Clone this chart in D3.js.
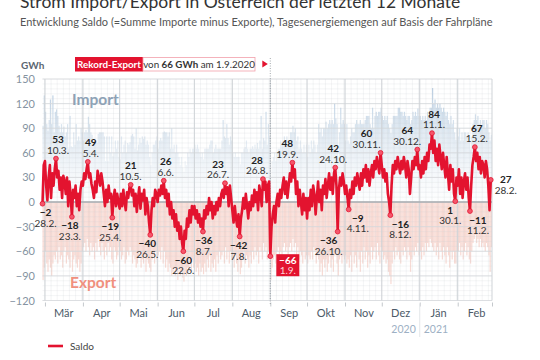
<!DOCTYPE html>
<html><head><meta charset="utf-8">
<script src="https://cdn.jsdelivr.net/npm/d3@7"></script>
<style>
body{margin:0;background:#fff;}
svg{display:block;font-family:Lato,"Open Sans",sans-serif;}
</style></head><body>
<svg id="c" width="540" height="360"></svg>
<script>
// ---------- DATA (GWh per day) ----------
const saldoFeb20 = [-2, 45];
const saldoMar = [50,20,2,30,45,5,35,20,40,53,30,38,15,30,5,32,25,10,30,-5,25,8,-18,15,5,20,-5,10,-10,15,25];
const saldoApr = [20,35,28,40,49,30,35,22,15,5,25,12,38,30,20,35,25,10,-5,15,0,20,5,10,-19,5,15,-5,10,0];
const saldoMay = [-8,10,-5,15,0,-10,12,5,18,21,8,15,-5,10,-12,5,18,-8,10,2,15,-15,5,-5,-25,-40,-10,5,-5,15,10];
const saldoJun = [0,15,8,20,10,26,5,15,-5,10,-15,0,-20,-10,-30,-15,-35,-25,-45,-30,-50,-60,-35,-45,-20,-30,-10,-25,-5,-15];
const saldoJul = [-5,-20,-10,-25,-15,-30,-20,-36,-10,-20,-5,-15,5,-10,0,-20,-5,-15,0,-10,5,-5,10,15,5,23,10,18,-5,20,5];
const saldoAug = [-10,-25,-5,-20,-30,-15,-42,-20,-10,5,-8,10,-5,-20,0,-10,8,-5,15,0,12,-10,20,10,-5,28,15,25,0,20,25];
const saldoSep = [-66,-30,-15,-5,-25,0,10,-5,15,5,20,30,10,25,5,20,35,25,48,30,40,10,25,-5,15,0,-15,10,-10,5];
const saldoOct = [-20,5,-10,15,-5,20,10,-15,5,25,0,15,-10,20,10,28,5,20,35,15,30,10,35,42,20,-36,15,30,20,35,25];
const saldoNov = [10,20,5,-9,15,5,25,10,30,20,35,25,15,35,20,40,30,45,25,40,20,35,45,30,50,40,55,45,35,60];
const saldoDec = [45,30,40,25,35,10,0,-16,20,45,35,50,40,55,45,35,50,40,55,45,30,50,40,10,30,50,40,55,45,64,40];
const saldoJan = [45,30,50,35,55,40,60,50,70,65,84,60,75,50,65,45,70,55,40,60,45,30,55,35,15,45,25,40,10,1,30];
const saldoFeb = [20,40,10,30,5,25,35,15,30,5,-11,20,45,55,67,50,60,40,55,35,50,45,30,50,40,20,-10,27];

const importFeb20 = [93,130];
const importMar = [110,95,87,100,125,95,130,85,110,113,105,93,85,95,85,92,80,85,95,65,105,68,67,85,70,95,75,80,75,90,85];
const importApr = [75,85,88,85,104,95,85,82,70,75,75,72,83,85,85,85,85,80,50,80,50,80,60,80,56,60,75,65,75,55];
const importMay = [52,80,60,70,75,60,72,70,73,81,83,80,65,90,63,70,78,72,80,77,80,70,75,70,55,45,60,70,70,75,80];
const importJun = [65,75,78,75,85,86,85,85,80,85,65,90,65,70,60,70,60,55,45,55,42,37,50,45,60,55,65,60,65,65];
const importJul = [70,65,70,65,60,55,60,52,65,65,65,65,70,75,75,60,65,70,65,65,65,65,75,100,80,78,95,78,70,80,75];
const importAug = [60,55,60,55,55,55,46,60,60,65,67,75,65,60,65,65,68,65,70,65,72,65,75,105,65,78,75,110,70,95,80];
const importSep = [29,50,55,60,50,60,65,65,75,70,75,80,70,80,70,75,85,85,93,85,90,75,80,65,75,65,60,70,60,70];
const importOct = [55,70,60,75,65,75,70,60,70,95,85,90,80,90,90,98,90,95,100,95,100,95,120,102,95,54,85,115,95,100,95];
const importNov = [75,95,75,71,80,90,85,85,95,100,95,95,100,95,95,95,100,105,105,105,95,90,115,90,105,110,105,110,110,115];
const importDec = [105,100,105,100,105,95,90,84,95,105,105,105,105,115,115,110,110,105,110,105,100,105,105,95,100,110,105,110,105,114,105];
const importJan = [105,100,105,100,105,100,110,105,115,115,139,120,125,115,120,115,120,115,110,115,110,105,110,100,95,105,95,100,85,76,90];
const importFeb = [80,90,75,85,75,85,85,80,85,75,64,80,95,100,107,100,105,95,100,90,100,100,90,100,95,85,75,82];

const exportFeb20 = [95,80];
const exportMar = [60,75,85,70,80,90,75,65,70,60,75,55,70,65,80,60,55,75,65,70,80,60,85,70,65,75,80,70,85,75,60];
const exportApr = [55,50,60,45,55,65,50,60,55,70,50,60,45,55,65,50,60,70,55,65,50,60,55,70,75,55,60,70,65,55];
const exportMay = [60,70,65,55,75,70,60,65,55,60,75,65,70,80,75,65,60,80,70,75,65,85,70,75,80,85,70,65,75,60,70];
const exportJun = [65,60,70,55,75,60,80,70,85,75,80,90,85,80,90,85,95,80,90,85,92,97,85,90,80,85,75,85,70,80];
const exportJul = [75,85,80,90,75,85,80,88,75,85,70,80,65,85,75,80,70,85,65,75,60,70,65,60,75,55,70,60,75,60,70];
const exportAug = [70,80,65,75,85,70,88,80,70,60,75,65,70,80,65,75,60,70,55,65,60,75,55,60,70,50,60,55,70,60,55];
const exportSep = [95,80,70,65,75,60,55,70,60,65,55,50,60,55,65,55,50,60,45,55,50,65,55,70,60,65,75,60,70,65];
const exportOct = [75,65,70,60,70,55,60,75,65,70,85,75,90,70,80,70,85,75,65,80,70,85,65,60,75,90,70,65,75,65,70];
const exportNov = [65,75,70,80,65,85,60,75,65,80,60,70,85,60,75,55,70,60,80,65,75,55,70,60,55,70,50,65,75,55];
const exportDec = [60,70,65,75,70,85,90,100,75,60,70,55,65,60,70,75,60,65,55,60,70,55,65,85,70,60,65,55,60,50,65];
const exportJan = [60,70,55,65,50,60,50,55,45,50,55,60,50,65,55,70,50,60,70,55,65,75,55,65,80,60,70,60,75,75,60];
const exportFeb = [60,50,65,55,70,60,50,65,55,70,75,60,50,45,40,50,45,55,45,55,50,55,60,50,55,65,85,55];

const monthLabels = ["Mär","Apr","Mai","Jun","Jul","Aug","Sep","Okt","Nov","Dez","Jän","Feb"];
const yearLabels = ["2020","2021"];
const yTicks = [-120,-90,-60,-30,0,30,60,90,120,150];

// annotated extremes
const annDates  = ["2020-02-28","2020-03-10","2020-03-23","2020-04-05","2020-04-25","2020-05-10","2020-05-26","2020-06-06","2020-06-22","2020-07-08","2020-07-26","2020-08-07","2020-08-26","2020-09-19","2020-10-24","2020-10-26","2020-11-04","2020-11-30","2020-12-08","2020-12-30","2021-01-11","2021-01-30","2021-02-11","2021-02-15","2021-02-28"];
const annText   = ["28.2.","10.3.","23.3.","5.4.","25.4.","10.5.","26.5.","6.6.","22.6.","8.7.","26.7.","7.8.","26.8.","19.9.","24.10.","26.10.","4.11.","30.11.","8.12.","30.12.","11.1.","30.1.","11.2.","15.2.","28.2."];
const recordDate = "2020-09-01";
const recordText = "1.9.";

// ---------- LAYOUT (label placement only) ----------
const annDx  = [3,2,-2,3,-2,0,-3,2,0,1,-7,-1,-6,-5,-2,-9,9,-14,10,-10,2,-5,8,2,15];
const annPos = ["b","a","b","a","b","a","b","a","b","b","a","b","a","a","a","b","b","a","b","a","a","b","b","a","r"];

const RED = "#e3132f";
const saldo = [].concat(saldoFeb20,saldoMar,saldoApr,saldoMay,saldoJun,saldoJul,saldoAug,saldoSep,saldoOct,saldoNov,saldoDec,saldoJan,saldoFeb);
const imports = [].concat(importFeb20,importMar,importApr,importMay,importJun,importJul,importAug,importSep,importOct,importNov,importDec,importJan,importFeb);
const exports_ = [].concat(exportFeb20,exportMar,exportApr,exportMay,exportJun,exportJul,exportAug,exportSep,exportOct,exportNov,exportDec,exportJan,exportFeb);

const start = new Date(Date.UTC(2020,1,28)), end = new Date(Date.UTC(2021,2,1));
const days = d3.utcDay.range(start, end);
const data = days.map((d,i)=>({d, s:saldo[i], imp:imports[i], exp:exports_[i]}));

const svg = d3.select("#c");
const x = d3.scaleUtc().domain([start,end]).range([42.5,492]);
const y = d3.scaleLinear().domain([-120,150]).range([300.5,79]);
const L = 42.5, R = 492, T = y(150), B = y(-120);

// gradients
const defs = svg.append("defs");
const gi = defs.append("linearGradient").attr("id","gi").attr("gradientUnits","userSpaceOnUse")
  .attr("x1",0).attr("x2",0).attr("y1",y(0)).attr("y2",y(140));
gi.append("stop").attr("offset","0%").attr("stop-color","#e6eef5").attr("stop-opacity",0.05);
gi.append("stop").attr("offset","40%").attr("stop-color","#d3e0ec").attr("stop-opacity",0.45);
gi.append("stop").attr("offset","100%").attr("stop-color","#b9cee2").attr("stop-opacity",1);
const ge = defs.append("linearGradient").attr("id","ge").attr("gradientUnits","userSpaceOnUse")
  .attr("x1",0).attr("x2",0).attr("y1",y(0)).attr("y2",y(-100));
ge.append("stop").attr("offset","0%").attr("stop-color","#f7d3cb").attr("stop-opacity",0.85);
ge.append("stop").attr("offset","100%").attr("stop-color","#f5cbc2").attr("stop-opacity",0.7);

// bars
const dw = d => x(d3.utcDay.offset(d,1)) - x(d);
svg.append("g").selectAll("rect").data(data).join("rect")
  .attr("x",d=>x(d.d)).attr("width",d=>dw(d.d))
  .attr("y",d=>y(d.imp)).attr("height",d=>y(0)-y(d.imp)).attr("fill","url(#gi)");
svg.append("g").selectAll("rect").data(data).join("rect")
  .attr("x",d=>x(d.d)).attr("width",d=>dw(d.d))
  .attr("y",y(0)).attr("height",d=>y(-d.exp)-y(0)).attr("fill","url(#ge)");

// fine grid
const grid = svg.append("g");
grid.selectAll("line.hm").data(d3.range(-120,151,6)).join("line")
  .attr("x1",L).attr("x2",R).attr("y1",d=>y(d)).attr("y2",d=>y(d))
  .attr("stroke","#c8cdd2").attr("stroke-opacity",0.35).attr("stroke-width",0.6);
grid.selectAll("line.vm").data(d3.utcDay.every(5).range(start,end)).join("line")
  .attr("x1",d=>x(d)).attr("x2",d=>x(d)).attr("y1",T).attr("y2",B)
  .attr("stroke","#c8cdd2").attr("stroke-opacity",0.35).attr("stroke-width",0.6);
grid.selectAll("line.hM").data(yTicks).join("line")
  .attr("x1",L).attr("x2",R).attr("y1",d=>y(d)).attr("y2",d=>y(d))
  .attr("stroke","#d5d8dc").attr("stroke-width",0.8);
const monthStarts = d3.utcMonth.range(new Date(Date.UTC(2020,2,1)), new Date(Date.UTC(2021,2,2)));
grid.selectAll("line.vM").data(monthStarts).join("line")
  .attr("x1",d=>x(d)).attr("x2",d=>x(d)).attr("y1",T).attr("y2",B)
  .attr("stroke","#cfd3d7").attr("stroke-width",1);
grid.append("line").attr("x1",L).attr("x2",R).attr("y1",y(0)).attr("y2",y(0))
  .attr("stroke","#a9adb1").attr("stroke-width",1.5);

// axes
const yAxis = svg.append("g").attr("transform",`translate(35,0)`)
  .call(d3.axisLeft(y).tickValues(yTicks).tickSize(0).tickPadding(0));
yAxis.select(".domain").remove();
yAxis.selectAll("text").attr("fill","#8593a1").attr("font-size",11).attr("font-family","Lato");

const xTickAxis = svg.append("g").attr("transform",`translate(0,${B+2})`)
  .call(d3.axisBottom(x).tickValues(monthStarts).tickSize(4).tickFormat(""));
xTickAxis.select(".domain").remove();
xTickAxis.selectAll("line").attr("stroke","#c4c8cc");

const monthMids = monthStarts.slice(0,12).map(d=>d3.utcDay.offset(d,15));
const xLabAxis = svg.append("g").attr("transform",`translate(0,${B+2})`)
  .call(d3.axisBottom(x).tickValues(monthMids).tickSize(0).tickPadding(7).tickFormat((d,i)=>monthLabels[i]));
xLabAxis.select(".domain").remove();
xLabAxis.selectAll("text").attr("fill","#4c5a68").attr("font-size",11).attr("font-family","Lato");

// year labels
const newYear = new Date(Date.UTC(2021,0,1));
svg.append("line").attr("x1",x(newYear)).attr("x2",x(newYear)).attr("y1",B+3).attr("y2",337)
  .attr("stroke","#e3e6e9").attr("stroke-width",1);
svg.append("text").attr("x",x(newYear)-4).attr("y",333).attr("text-anchor","end")
  .attr("fill","#9db0c4").attr("font-size",10.5).text(yearLabels[0]);
svg.append("text").attr("x",x(newYear)+4).attr("y",333).attr("text-anchor","start")
  .attr("fill","#9db0c4").attr("font-size",10.5).text(yearLabels[1]);

// Import / Export labels
svg.append("text").attr("x",72).attr("y",105).attr("font-size",15.5).attr("font-weight",700)
  .attr("fill","#8ea2b6").text("Import");
svg.append("text").attr("x",70).attr("y",288).attr("font-size",15.5).attr("font-weight",700)
  .attr("fill","#f0907e").text("Export");

// record dotted line
const rx = x(new Date(recordDate+"T00:00:00Z"));
svg.append("line").attr("x1",rx).attr("x2",rx).attr("y1",58).attr("y2",B+4)
  .attr("stroke","#8e9499").attr("stroke-width",0.8).attr("stroke-dasharray","1,1.5");

// saldo line
svg.append("path").datum(data)
  .attr("d",d3.line().x(d=>x(d.d)).y(d=>y(d.s)))
  .attr("fill","none").attr("stroke",RED).attr("stroke-width",2.6).attr("stroke-linejoin","round");

// annotations
const byDate = new Map(data.map(d=>[d3.utcFormat("%Y-%m-%d")(d.d), d]));
const ag = svg.append("g").attr("font-size",10).attr("text-anchor","middle");
annDates.forEach((ds,i)=>{
  const p = byDate.get(ds); const px = x(p.d), py = y(p.s);
  ag.append("circle").attr("cx",px).attr("cy",py).attr("r",2.4).attr("fill","#f4566b").attr("stroke",RED).attr("stroke-width",0.8);
  let vy, dy, tx = px + annDx[i];
  if (annPos[i]==="a"){ vy = py-15.5; dy = py-5; }
  else if (annPos[i]==="b"){ vy = py+12.5; dy = py+23; }
  else { vy = py+3; dy = py+14; }
  ag.append("text").attr("x",tx).attr("y",vy).attr("font-weight",700).attr("fill","#222").text(d3.format("d")(p.s));
  ag.append("text").attr("x",tx).attr("y",dy).attr("fill","#333").text(annText[i]);
});
// record label box
{
  const p = byDate.get(recordDate); const px = x(p.d), py = y(p.s);
  ag.append("rect").attr("x",px+6).attr("y",py-2).attr("width",23).attr("height",22).attr("fill",RED);
  ag.append("circle").attr("cx",px).attr("cy",py).attr("r",2.4).attr("fill","#f4566b").attr("stroke",RED).attr("stroke-width",0.8);
  ag.append("text").attr("x",px+17.5).attr("y",py+7.5).attr("font-weight",700).attr("fill","#fff").text(d3.format("d")(p.s));
  ag.append("text").attr("x",px+17.5).attr("y",py+18).attr("fill","#fbd0d6").text(recordText);
}

// record header
svg.append("rect").attr("x",75).attr("y",57).attr("width",68).attr("height",14.5).attr("fill",RED);
svg.append("text").attr("x",109).attr("y",68).attr("text-anchor","middle").attr("fill","#fff")
  .attr("font-size",9.8).attr("font-weight",700).text("Rekord-Export");
svg.append("rect").attr("x",143).attr("y",57.5).attr("width",112).attr("height",13.5)
  .attr("fill","#fff").attr("stroke","#f2a0ab").attr("stroke-width",0.8);
svg.append("text").attr("x",199).attr("y",68).attr("text-anchor","middle").attr("fill","#333").attr("font-size",9.8)
  .html('von <tspan font-weight="700">66 GWh</tspan> am 1.9.2020');
svg.append("path").attr("d",`M${rx-8},60.5 L${rx-2.5},64 L${rx-8},67.5 Z`).attr("fill",RED);

// GWh unit
svg.append("text").attr("x",21).attr("y",69).attr("font-size",10).attr("font-weight",700)
  .attr("fill","#5b6570").text("GWh");

// titles
svg.append("text").attr("x",20).attr("y",8).attr("font-size",17.5).attr("fill","#333").text("Strom Import/Export in Österreich der letzten 12 Monate");
svg.append("text").attr("x",20).attr("y",26).attr("font-size",11).attr("fill","#555").text("Entwicklung Saldo (=Summe Importe minus Exporte), Tagesenergiemengen auf Basis der Fahrpläne");

// legend
svg.append("line").attr("x1",48).attr("x2",63).attr("y1",346).attr("y2",346).attr("stroke",RED).attr("stroke-width",2.6);
svg.append("text").attr("x",70).attr("y",349.5).attr("font-size",10).attr("fill","#444").text("Saldo");
</script>
</body></html>
